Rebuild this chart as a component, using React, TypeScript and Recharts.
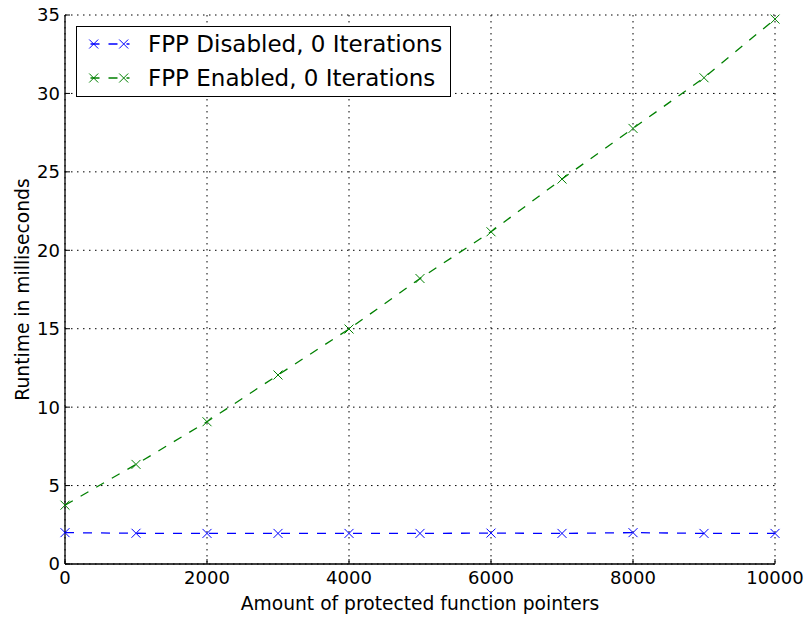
import React from 'react';
import { LineChart, Line, XAxis, YAxis, CartesianGrid, Legend } from 'recharts';

const xValues = [0, 1000, 2000, 3000, 4000, 5000, 6000, 7000, 8000, 9000, 10000];
const disabledMs = [2.0, 1.96, 1.95, 1.95, 1.95, 1.95, 1.97, 1.95, 2.0, 1.95, 1.95];
const enabledMs = [3.75, 6.35, 9.07, 12.05, 14.98, 18.2, 21.18, 24.54, 27.77, 31.0, 34.74];
const xTicks = [0, 2000, 4000, 6000, 8000, 10000];
const yTicks = [0, 5, 10, 15, 20, 25, 30, 35];
const seriesNames = ['FPP Disabled, 0 Iterations', 'FPP Enabled, 0 Iterations'];
const seriesColors = ['#0000ff', '#008000'];

const data = xValues.map((x, i) => ({ x, disabled: disabledMs[i], enabled: enabledMs[i] }));

const FONT = '"DejaVu Sans", sans-serif';
const FS = 18;
const LABEL_FS = 18.7;
const LEGEND_FS = 23;

const XMark = (props: any) => {
  const { cx, cy, stroke } = props;
  if (cx == null || cy == null) return null;
  const s = 4.5;
  return (
    <path
      d={`M${cx - s},${cy - s}L${cx + s},${cy + s}M${cx - s},${cy + s}L${cx + s},${cy - s}`}
      stroke={stroke}
      strokeWidth={1}
      fill="none"
    />
  );
};

const BottomTick = (props: any) => {
  const { x, y, payload } = props;
  return (
    <g>
      <line x1={x} y1={y} x2={x} y2={y - 5} stroke="#000" strokeWidth={1} />
      <text x={x} y={y + 20} textAnchor="middle" fontFamily={FONT} fontSize={FS} fill="#000">
        {payload.value}
      </text>
    </g>
  );
};

const TopTick = (props: any) => {
  const { x, y } = props;
  return <line x1={x} y1={y} x2={x} y2={y + 5} stroke="#000" strokeWidth={1} />;
};

const LeftTick = (props: any) => {
  const { x, y, payload } = props;
  return (
    <g>
      <line x1={x} y1={y} x2={x + 5} y2={y} stroke="#000" strokeWidth={1} />
      <text x={x - 5} y={y} dy="0.36em" textAnchor="end" fontFamily={FONT} fontSize={FS} fill="#000">
        {payload.value}
      </text>
    </g>
  );
};

const RightTick = (props: any) => {
  const { x, y } = props;
  return <line x1={x} y1={y} x2={x - 5} y2={y} stroke="#000" strokeWidth={1} />;
};

const YLabel = (props: any) => {
  const vb = props.viewBox || {};
  const cx = (vb.x || 0) + 22;
  const cy = (vb.y || 0) + (vb.height || 0) / 2;
  return (
    <text
      x={cx}
      y={cy}
      transform={`rotate(-90, ${cx}, ${cy})`}
      textAnchor="middle"
      dominantBaseline="central"
      fontFamily={FONT}
      fontSize={LABEL_FS}
      fill="#000"
    >
      Runtime in milliseconds
    </text>
  );
};

const LegendIcon = ({ color }: { color: string }) => (
  <svg width={60} height={20} style={{ display: 'block' }}>
    <line x1={10.5} y1={10} x2={52.5} y2={10} stroke={color} strokeWidth={1.3} strokeDasharray="9 9" strokeDashoffset={-3} />
    <path d="M12.2,5.5L21.2,14.5M12.2,14.5L21.2,5.5" stroke={color} strokeWidth={1} fill="none" />
    <path d="M42.2,5.5L51.2,14.5M42.2,14.5L51.2,5.5" stroke={color} strokeWidth={1} fill="none" />
  </svg>
);

const LegendBox = () => (
  <div
    style={{
      border: '1.3px solid #000',
      background: '#fff',
      width: 375,
      height: 71,
      boxSizing: 'border-box',
      fontFamily: FONT,
      fontSize: LEGEND_FS,
      color: '#000',
      paddingTop: 0,
      whiteSpace: 'nowrap',
    }}
  >
    {seriesNames.map((n, i) => (
      <div key={n} style={{ display: 'flex', alignItems: 'center', height: 34, lineHeight: '34px' }}>
        <div style={{ width: 71, flexShrink: 0 }}>
          <LegendIcon color={seriesColors[i]} />
        </div>
        <span style={{ whiteSpace: 'nowrap' }}>{n}</span>
      </div>
    ))}
  </div>
);

export default function App() {
  return (
    <div style={{ position: 'absolute', left: 0, top: 0, width: 810, height: 617, background: '#fff' }}>
      <LineChart width={810} height={617} data={data} margin={{ top: 15, right: 35, bottom: 0, left: 0 }}>
        <CartesianGrid stroke="#000" strokeDasharray="1.5 4.5" strokeWidth={1} />
        <XAxis
          dataKey="x"
          type="number"
          domain={[0, 10000]}
          ticks={xTicks}
          height={53}
          tickSize={0}
          tickMargin={0}
          tick={<BottomTick />}
          axisLine={{ stroke: '#000', strokeWidth: 1.3 }}
          label={{
            value: 'Amount of protected function pointers',
            position: 'insideBottom',
            offset: 7,
            fontFamily: FONT,
            fontSize: LABEL_FS,
            fill: '#000',
          }}
        />
        <XAxis
          xAxisId="top"
          orientation="top"
          dataKey="x"
          type="number"
          domain={[0, 10000]}
          ticks={xTicks}
          height={0}
          tickSize={0}
          tickMargin={0}
          tick={<TopTick />}
          axisLine={{ stroke: '#000', strokeWidth: 1.3 }}
        />
        <YAxis
          type="number"
          domain={[0, 35]}
          ticks={yTicks}
          width={65}
          tickSize={0}
          tickMargin={0}
          tick={<LeftTick />}
          axisLine={{ stroke: '#000', strokeWidth: 1.3 }}
          label={<YLabel />}
        />
        <YAxis
          yAxisId="right"
          orientation="right"
          type="number"
          domain={[0, 35]}
          ticks={yTicks}
          width={0}
          tickSize={0}
          tickMargin={0}
          tick={<RightTick />}
          axisLine={{ stroke: '#000', strokeWidth: 1.3 }}
        />
        <Line
          dataKey="disabled"
          name={seriesNames[0]}
          stroke={seriesColors[0]}
          strokeWidth={1.3}
          strokeDasharray="9 9"
          dot={<XMark />}
          activeDot={false}
          isAnimationActive={false}
        />
        <Line
          dataKey="enabled"
          name={seriesNames[1]}
          stroke={seriesColors[1]}
          strokeWidth={1.3}
          strokeDasharray="9 9"
          dot={<XMark />}
          activeDot={false}
          isAnimationActive={false}
        />
        <Legend
          layout="horizontal"
          verticalAlign="middle"
          align="center"
          content={<LegendBox />}
          wrapperStyle={{ position: 'absolute', left: 76, top: 26, width: 375, height: 71 }}
        />
      </LineChart>
    </div>
  );
}
